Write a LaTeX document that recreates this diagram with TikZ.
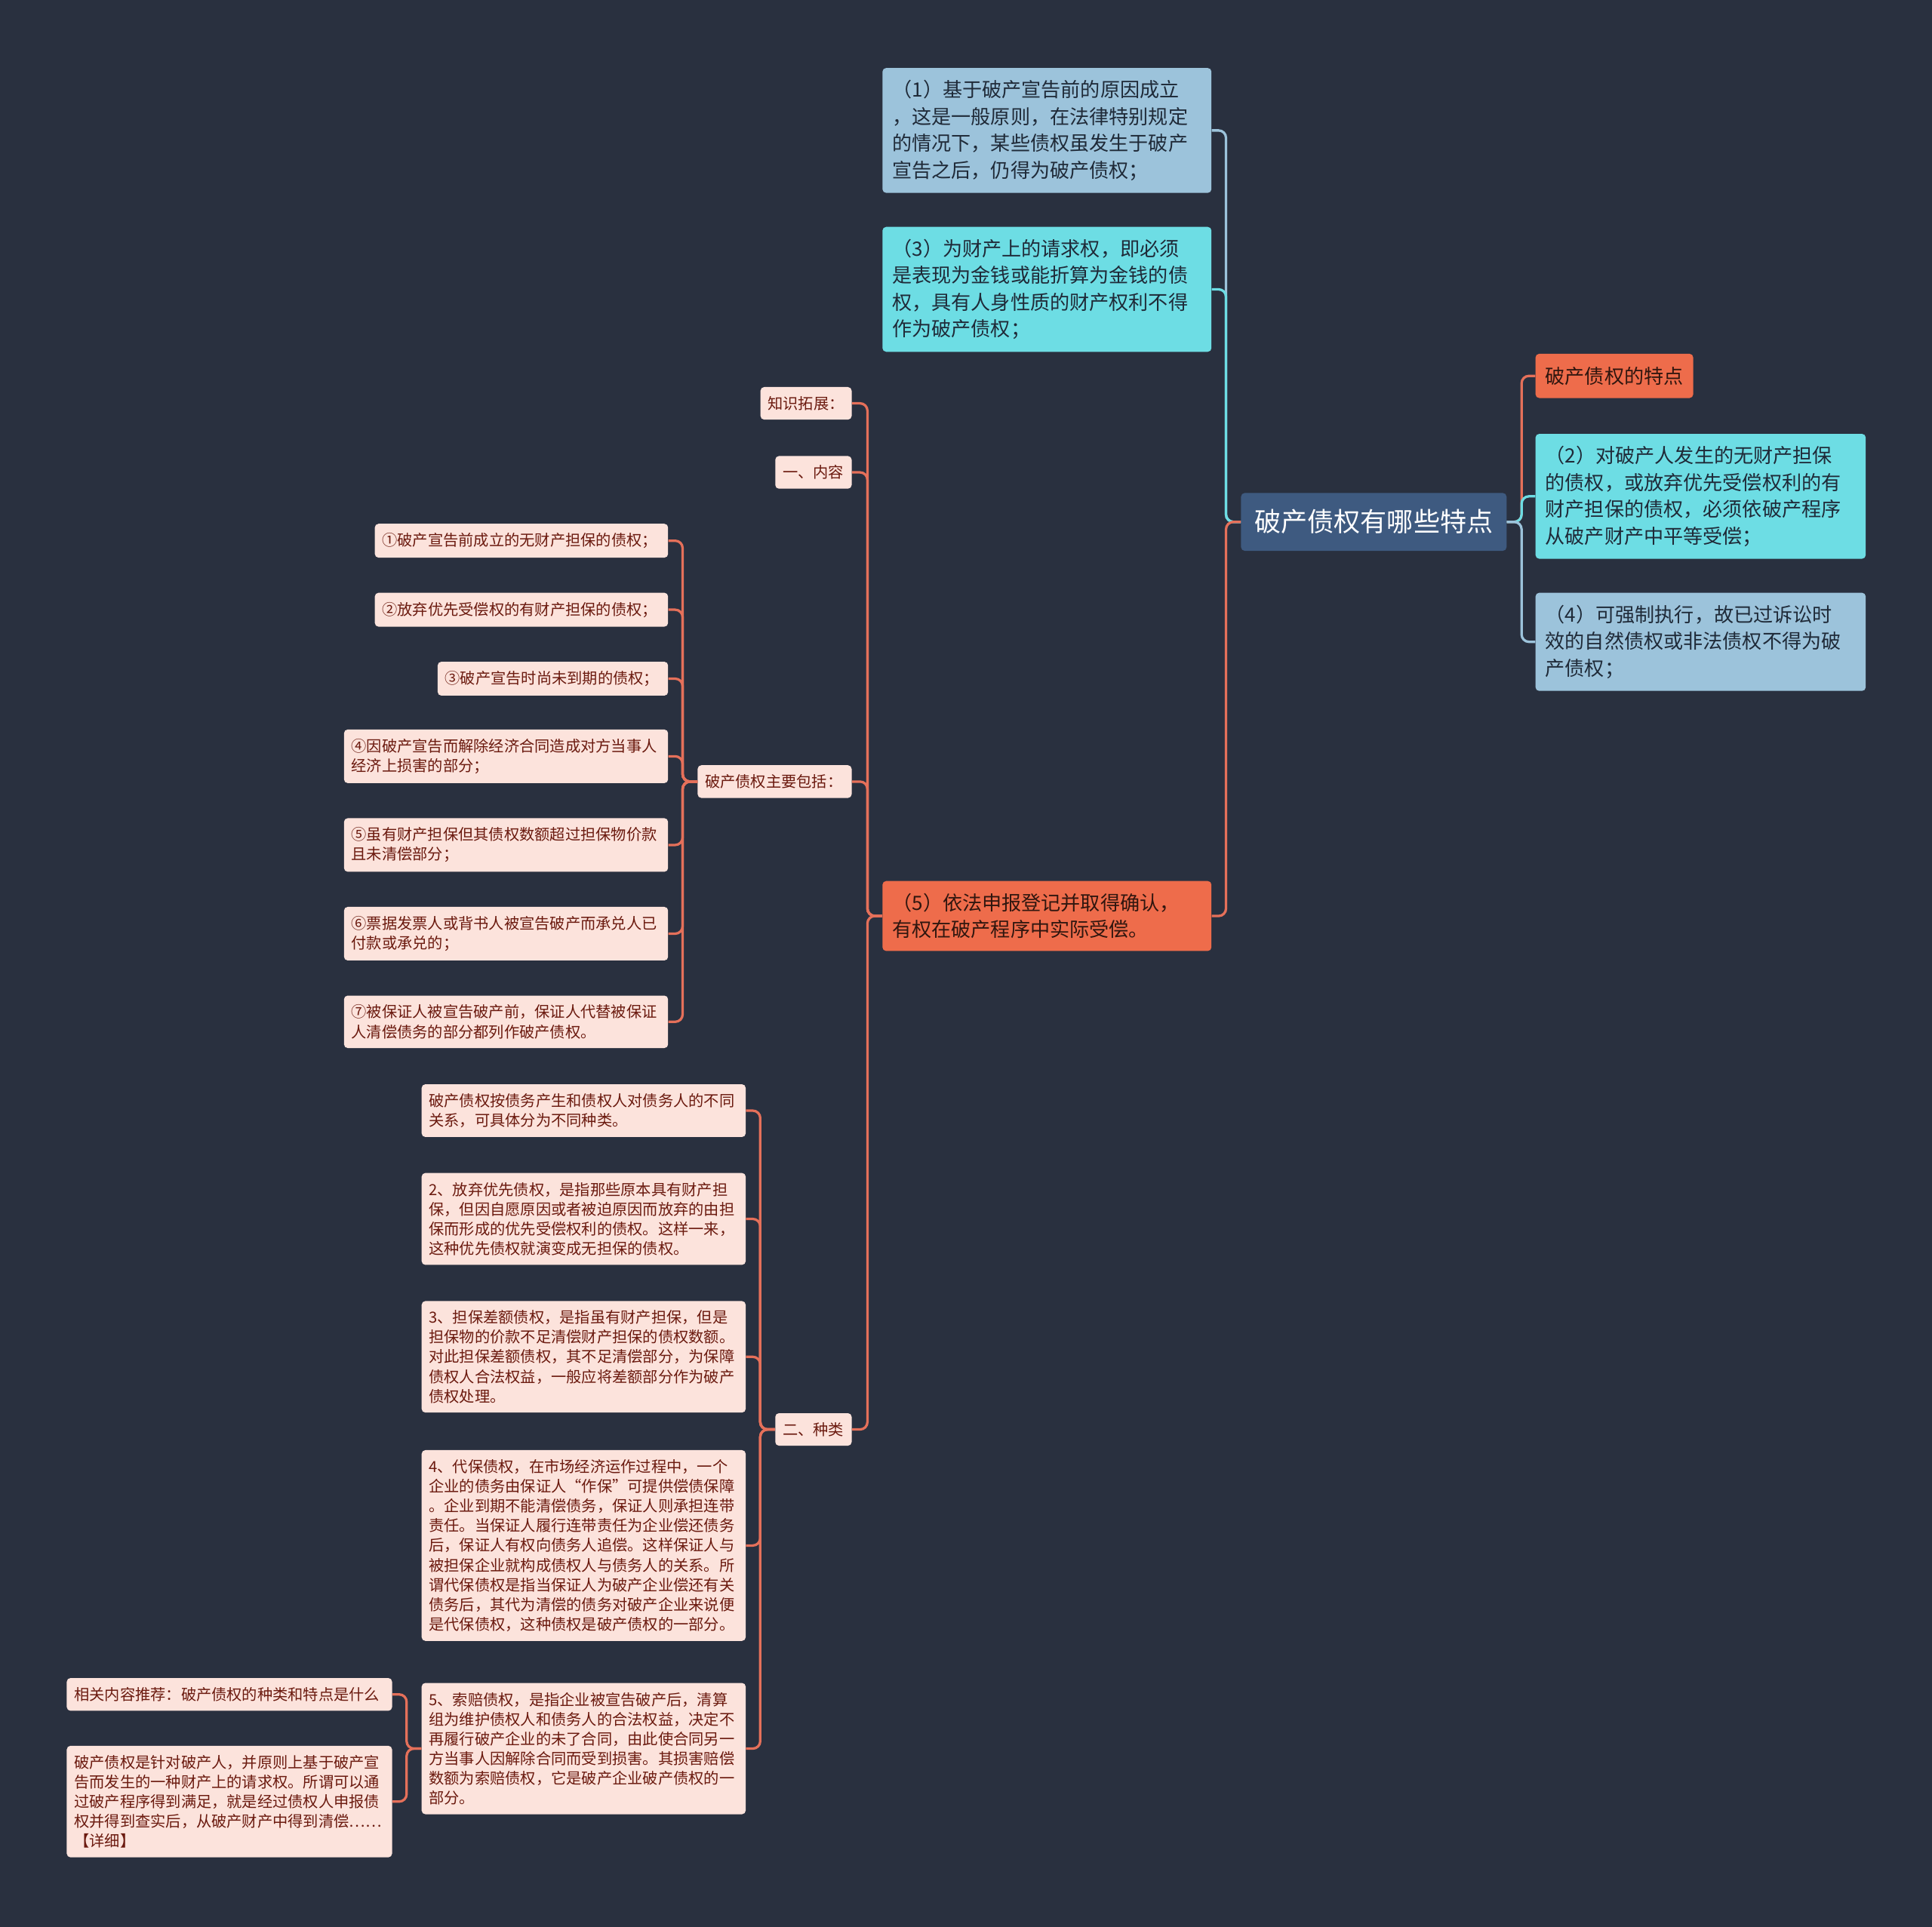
\documentclass[tikz,border=0pt]{standalone}
\usepackage{fontspec}
\setmainfont{Noto Sans CJK SC}
\usetikzlibrary{positioning}

\definecolor{bg}{HTML}{29303F}
\definecolor{rootfill}{HTML}{3E5A80}
\definecolor{lblue}{HTML}{9CC3DB}
\definecolor{cyanfill}{HTML}{6DDDE4}
\definecolor{orangefill}{HTML}{EE6C4B}
\definecolor{pinkfill}{HTML}{FCE3DC}
\definecolor{pinktext}{HTML}{6B1A0F}
\definecolor{darktext}{HTML}{1F2A38}
\definecolor{orangeline}{HTML}{E5705A}

\begin{document}
\begin{tikzpicture}[
            x=1pt,
            y=-1pt,
            root/.style={
                rounded corners=3pt,
                fill=rootfill,
                text=white,
                inner xsep=11pt,
                inner ysep=13.5pt,
                anchor=north west,
                font=\fontsize{21.5}{26}\selectfont
            },
            big/.style={
                rounded corners=3pt,
                text=darktext,
                inner xsep=8pt,
                inner ysep=10pt,
                align=left,
                anchor=north west,
                font=\fontsize{16}{21.7}\selectfont
            },
            leaf/.style={
                rounded corners=3pt,
                fill=pinkfill,
                text=pinktext,
                inner xsep=6pt,
                inner ysep=7.5pt,
                align=left,
                anchor=north west,
                font=\fontsize{12.4}{16}\selectfont
            },
            edge/.style={
                line width=2pt,
                rounded corners=6pt
            }
        ]

            % Canvas
            \fill[bg] (0,0) rectangle (1568,1564);
            \useasboundingbox (0,0) rectangle (1568,1564);

            % Root
            \node[root] (root) at (1007,400) {破产债权有哪些特点};

            % Right branch
            \node[big, fill=orangefill, text=black!80!orangefill, inner ysep=10.5pt] (tedian) at (1246,287) {破产债权的特点};
            \node[big, fill=cyanfill, text width=252pt] (p2) at (1246,352) {（2）对破产人发生的无财产担保\\的债权，或放弃优先受偿权利的有\\财产担保的债权，必须依破产程序\\从破产财产中平等受偿；};
            \node[big, fill=lblue, text width=252pt] (p4) at (1246,481) {（4）可强制执行，故已过诉讼时\\效的自然债权或非法债权不得为破\\产债权；};

            % Left branch
            \node[big, fill=lblue, text width=251pt] (p1) at (716,55) {（1）基于破产宣告前的原因成立\\，这是一般原则，在法律特别规定\\的情况下，某些债权虽发生于破产\\宣告之后，仍得为破产债权；};
            \node[big, fill=cyanfill, text width=251pt] (p3) at (716,184) {（3）为财产上的请求权，即必须\\是表现为金钱或能折算为金钱的债\\权，具有人身性质的财产权利不得\\作为破产债权；};
            \node[big, fill=orangefill, text=black!80!orangefill, text width=251pt] (p5) at (716,715) {（5）依法申报登记并取得确认，\\有权在破产程序中实际受偿。};

            % Under (5)
            \node[leaf, text width=62pt] (k1) at (617,314) {知识拓展：};
            \node[leaf, text width=50pt] (k2) at (629,370) {一、内容};
            \node[leaf, text width=113pt] (k3) at (566,621) {破产债权主要包括：};
            \node[leaf, text width=50pt] (k4) at (629,1147) {二、种类};

            % Items of k3
            \node[leaf, text width=226pt] (a1) at (304,425) {①破产宣告前成立的无财产担保的债权；};
            \node[leaf, text width=226pt] (a2) at (304,481) {②放弃优先受偿权的有财产担保的债权；};
            \node[leaf, text width=175pt] (a3) at (355,537) {③破产宣告时尚未到期的债权；};
            \node[leaf, text width=251pt] (a4) at (279,592) {④因破产宣告而解除经济合同造成对方当事人\\经济上损害的部分；};
            \node[leaf, text width=251pt] (a5) at (279,664) {⑤虽有财产担保但其债权数额超过担保物价款\\且未清偿部分；};
            \node[leaf, text width=251pt] (a6) at (279,736) {⑥票据发票人或背书人被宣告破产而承兑人已\\付款或承兑的；};
            \node[leaf, text width=251pt] (a7) at (279,808) {⑦被保证人被宣告破产前，保证人代替被保证\\人清偿债务的部分都列作破产债权。};

            % Items of k4
            \node[leaf, text width=251pt] (t1) at (342,880) {破产债权按债务产生和债权人对债务人的不同\\关系，可具体分为不同种类。};
            \node[leaf, text width=251pt] (t2) at (342,952) {2、放弃优先债权，是指那些原本具有财产担\\保，但因自愿原因或者被迫原因而放弃的由担\\保而形成的优先受偿权利的债权。这样一来，\\这种优先债权就演变成无担保的债权。};
            \node[leaf, text width=251pt] (t3) at (342,1056) {3、担保差额债权，是指虽有财产担保，但是\\担保物的价款不足清偿财产担保的债权数额。\\对此担保差额债权，其不足清偿部分，为保障\\债权人合法权益，一般应将差额部分作为破产\\债权处理。};
            \node[leaf, text width=251pt] (t4) at (342,1177) {4、代保债权，在市场经济运作过程中，一个\\企业的债务由保证人“作保”可提供偿债保障\\。企业到期不能清偿债务，保证人则承担连带\\责任。当保证人履行连带责任为企业偿还债务\\后，保证人有权向债务人追偿。这样保证人与\\被担保企业就构成债权人与债务人的关系。所\\谓代保债权是指当保证人为破产企业偿还有关\\债务后，其代为清偿的债务对破产企业来说便\\是代保债权，这种债权是破产债权的一部分。};
            \node[leaf, text width=251pt] (t5) at (342,1366) {5、索赔债权，是指企业被宣告破产后，清算\\组为维护债权人和债务人的合法权益，决定不\\再履行破产企业的未了合同，由此使合同另一\\方当事人因解除合同而受到损害。其损害赔偿\\数额为索赔债权，它是破产企业破产债权的一\\部分。};

            % Items of t5
            \node[leaf, text width=252pt] (r1) at (54,1362) {相关内容推荐：破产债权的种类和特点是什么};
            \node[leaf, text width=252pt] (r2) at (54,1417) {破产债权是针对破产人，并原则上基于破产宣\\告而发生的一种财产上的请求权。所谓可以通\\过破产程序得到满足，就是经过债权人申报债\\权并得到查实后，从破产财产中得到清偿……\\【详细】};

            % Edges from root
            \draw[edge, lblue] (root.west) -- ++(-12,0) |- (p1.east);
            \draw[edge, cyanfill] (root.west) -- ++(-12,0) |- (p3.east);
            \draw[edge, orangeline] (root.west) -- ++(-12,0) |- (p5.east);
            \draw[edge, orangeline] (root.east) -- ++(12,0) |- (tedian.west);
            \draw[edge, cyanfill] (root.east) -- ++(12,0) |- (p2.west);
            \draw[edge, lblue] (root.east) -- ++(12,0) |- (p4.west);

            % Edges to pink nodes
            \foreach \c in {k1,k2,k3,k4}
                \draw[edge, orangeline] (p5.west) -- ++(-12,0) |- (\c.east);
            \foreach \c in {a1,a2,a3,a4,a5,a6,a7}
                \draw[edge, orangeline] (k3.west) -- ++(-12,0) |- (\c.east);
            \foreach \c in {t1,t2,t3,t4,t5}
                \draw[edge, orangeline] (k4.west) -- ++(-12,0) |- (\c.east);
            \foreach \c in {r1,r2}
                \draw[edge, orangeline] (t5.west) -- ++(-12,0) |- (\c.east);

        \end{tikzpicture}
\end{document}
